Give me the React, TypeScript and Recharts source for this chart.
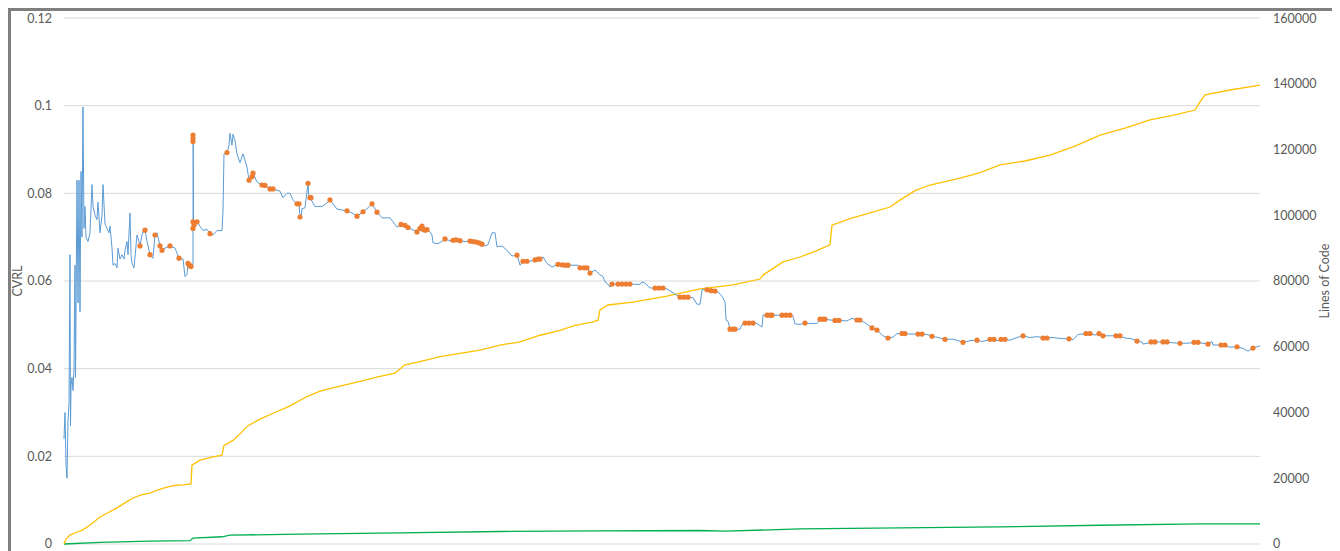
import React from "react";
import {
  ComposedChart,
  Line,
  Scatter,
  XAxis,
  YAxis,
  CartesianGrid,
} from "recharts";

// build index, CVRL
const cvrlPoints: [number, number][] = [
  [64, 0.024], [65, 0.03], [66, 0.018], [67, 0.015], [68, 0.028], [69, 0.032], [70, 0.066], [70.5, 0.027],
  [71, 0.036], [72, 0.038], [73, 0.035], [74, 0.04], [75, 0.0636], [75.5, 0.038], [76, 0.052], [77, 0.083],
  [78, 0.055], [79, 0.083], [80, 0.053], [81, 0.085], [82, 0.07], [83, 0.0997], [84, 0.072], [85, 0.077],
  [86, 0.07], [88, 0.069], [90, 0.071], [92, 0.082], [93, 0.077], [95, 0.075], [97, 0.074], [98, 0.078],
  [100, 0.071], [102, 0.075], [103, 0.082], [105, 0.073], [107, 0.072], [109, 0.071], [110, 0.0725],
  [112, 0.0675], [113, 0.0636], [115, 0.064], [117, 0.063], [118, 0.0675], [120, 0.065], [122, 0.066],
  [124, 0.065], [125, 0.067], [127, 0.069], [128, 0.066], [130, 0.0755], [131, 0.066], [132, 0.064],
  [134, 0.063], [137, 0.0705], [139, 0.069], [140, 0.068], [142, 0.0705], [144, 0.072], [145, 0.0716],
  [147, 0.069], [150, 0.066], [153, 0.0652], [155, 0.0705], [157, 0.071], [160, 0.068], [162, 0.067],
  [165, 0.0675], [170, 0.068], [175, 0.0675], [179, 0.0652], [183, 0.065], [185, 0.061], [187, 0.0615],
  [188, 0.064], [191, 0.0635], [193, 0.0635], [193.2, 0.0933], [193.5, 0.0735], [194, 0.072], [197, 0.0735],
  [200, 0.0725], [203, 0.0715], [207, 0.0718], [210, 0.0708], [213, 0.0705], [217, 0.0715], [222, 0.0715],
  [223, 0.076], [224, 0.089], [227, 0.0893], [229, 0.091], [230, 0.0937], [232, 0.091], [233, 0.0935],
  [235, 0.092], [237, 0.089], [240, 0.087], [243, 0.089], [247, 0.086], [249, 0.083], [253, 0.0846],
  [257, 0.0826], [262, 0.0819], [265, 0.0819], [270, 0.081], [273, 0.081], [280, 0.0805], [283, 0.079],
  [287, 0.08], [290, 0.08], [293, 0.0785], [297, 0.0776], [299, 0.0776], [300, 0.0746], [301, 0.0746],
  [302, 0.0765], [305, 0.0767], [308, 0.0823], [309, 0.079], [310, 0.079], [315, 0.077], [322, 0.077],
  [327, 0.0778], [330, 0.0785], [337, 0.0764], [347, 0.076], [352, 0.0755], [357, 0.0748], [363, 0.0758],
  [367, 0.0765], [372, 0.0776], [377, 0.0757], [382, 0.0744], [390, 0.0744], [393, 0.0735], [397, 0.0723],
  [401, 0.0729], [405, 0.0727], [408, 0.0722], [417, 0.0712], [422, 0.0725], [427, 0.0717], [430, 0.0712],
  [432, 0.0705], [433, 0.0687], [438, 0.0685], [443, 0.0692], [445, 0.0696], [452, 0.069], [455, 0.0693],
  [460, 0.0692], [465, 0.069], [470, 0.0691], [476, 0.0688], [482, 0.0684], [485, 0.068], [488, 0.0683],
  [492, 0.071], [495, 0.071], [497, 0.0678], [502, 0.068], [507, 0.067], [512, 0.0657], [517, 0.0659],
  [520, 0.0636], [523, 0.0645], [527, 0.0645], [532, 0.0646], [535, 0.0648], [540, 0.065], [543, 0.0655],
  [547, 0.064], [552, 0.0632], [555, 0.0635], [558, 0.0638], [568, 0.0636], [573, 0.0636], [578, 0.0636],
  [580, 0.063], [587, 0.063], [590, 0.0618], [595, 0.0625], [600, 0.0614], [603, 0.061], [605, 0.0598],
  [607, 0.0595], [610, 0.0586], [612, 0.0593], [620, 0.0592], [630, 0.0593], [640, 0.0592], [642, 0.0598],
  [645, 0.0595], [650, 0.0584], [655, 0.0584], [663, 0.0584], [667, 0.0582], [673, 0.0573], [680, 0.0563],
  [688, 0.0563], [693, 0.0562], [697, 0.0547], [700, 0.0547], [702, 0.058], [707, 0.058], [715, 0.0577],
  [718, 0.0575], [722, 0.0565], [725, 0.0552], [726, 0.0511], [728, 0.0508], [730, 0.049], [735, 0.049],
  [740, 0.049], [742, 0.05], [745, 0.0504], [753, 0.0504], [757, 0.0503], [762, 0.0495], [763, 0.0522],
  [772, 0.0522], [777, 0.0522], [782, 0.0522], [790, 0.0522], [793, 0.052], [795, 0.0502], [800, 0.0501],
  [805, 0.0504], [810, 0.0503], [817, 0.0503], [820, 0.0513], [825, 0.0513], [830, 0.0511], [837, 0.051],
  [847, 0.0509], [852, 0.0515], [857, 0.0511], [860, 0.0511], [865, 0.0505], [872, 0.0493], [877, 0.0488],
  [883, 0.0475], [888, 0.047], [893, 0.0472], [897, 0.048], [902, 0.048], [905, 0.048], [910, 0.0479],
  [918, 0.0479], [922, 0.0479], [927, 0.0478], [932, 0.0474], [938, 0.0471], [945, 0.0467], [953, 0.0467],
  [958, 0.0464], [963, 0.046], [970, 0.0464], [977, 0.0465], [982, 0.0462], [992, 0.0467], [997, 0.0464],
  [1003, 0.0467], [1010, 0.0465], [1017, 0.0471], [1023, 0.0475], [1030, 0.0471], [1037, 0.0473],
  [1045, 0.047], [1053, 0.0471], [1060, 0.0469], [1069, 0.0468], [1073, 0.0466], [1078, 0.0478],
  [1088, 0.048], [1095, 0.0477], [1100, 0.0479], [1103, 0.0475], [1110, 0.0475], [1118, 0.0475],
  [1125, 0.047], [1132, 0.0468], [1137, 0.0463], [1142, 0.0461], [1143, 0.0456], [1153, 0.0461],
  [1165, 0.0461], [1173, 0.0459], [1180, 0.0458], [1187, 0.0458], [1196, 0.046], [1203, 0.0458],
  [1208, 0.0456], [1212, 0.0462], [1213, 0.0454], [1223, 0.0454], [1230, 0.0449], [1237, 0.045],
  [1243, 0.0446], [1248, 0.044], [1253, 0.0447], [1260, 0.0452],
];

// highlighted CVRL points
const highlightPoints: [number, number][] = [
  [140, 0.068], [145, 0.0716], [150, 0.066], [155, 0.0705], [160, 0.068], [162, 0.067], [170, 0.068],
  [179, 0.0652], [188, 0.064], [189, 0.0637], [190, 0.0635], [191, 0.0633], [193, 0.0933], [193, 0.0925],
  [193, 0.0918], [193, 0.0735], [193, 0.072], [194, 0.0728], [197, 0.0735], [210, 0.0708], [227, 0.0893],
  [249, 0.083], [252, 0.0838], [253, 0.0846], [262, 0.0819], [265, 0.0818], [270, 0.081], [273, 0.081],
  [297, 0.0776], [299, 0.0776], [300, 0.0746], [308, 0.0823], [310, 0.079], [311, 0.079], [330, 0.0785],
  [347, 0.076], [357, 0.0748], [363, 0.0758], [372, 0.0776], [377, 0.0757], [401, 0.0729], [405, 0.0727],
  [408, 0.0722], [417, 0.0712], [420, 0.072], [422, 0.0725], [423, 0.0718], [425, 0.0716], [427, 0.0717],
  [445, 0.0696], [453, 0.0693], [456, 0.0694], [460, 0.0692], [470, 0.0691], [473, 0.069], [476, 0.0689],
  [479, 0.0687], [482, 0.0684], [517, 0.0659], [523, 0.0645], [527, 0.0645], [535, 0.0648], [538, 0.065],
  [540, 0.065], [558, 0.0638], [562, 0.0637], [565, 0.0636], [568, 0.0636], [580, 0.063], [584, 0.063],
  [587, 0.063], [590, 0.0618], [612, 0.0593], [618, 0.0593], [622, 0.0593], [626, 0.0593], [630, 0.0593],
  [655, 0.0584], [659, 0.0584], [663, 0.0584], [680, 0.0563], [684, 0.0563], [688, 0.0563], [707, 0.058],
  [711, 0.0578], [715, 0.0577], [730, 0.049], [733, 0.049], [735, 0.049], [745, 0.0504], [749, 0.0504],
  [753, 0.0504], [767, 0.0522], [770, 0.0522], [772, 0.0522], [782, 0.0522], [786, 0.0522], [790, 0.0522],
  [805, 0.0504], [820, 0.0513], [823, 0.0513], [825, 0.0513], [835, 0.051], [839, 0.051], [857, 0.0511],
  [860, 0.0511], [872, 0.0493], [877, 0.0488], [888, 0.047], [902, 0.048], [905, 0.048], [918, 0.0479],
  [922, 0.0479], [932, 0.0474], [945, 0.0467], [963, 0.046], [977, 0.0465], [990, 0.0467], [994, 0.0467],
  [1001, 0.0467], [1005, 0.0467], [1023, 0.0475], [1043, 0.047], [1047, 0.047], [1069, 0.0468],
  [1086, 0.048], [1090, 0.048], [1099, 0.048], [1103, 0.0475], [1116, 0.0475], [1120, 0.0475],
  [1137, 0.0463], [1151, 0.0461], [1155, 0.0461], [1163, 0.0461], [1167, 0.0461], [1180, 0.0458],
  [1194, 0.046], [1198, 0.046], [1208, 0.0456], [1221, 0.0454], [1225, 0.0454], [1237, 0.045],
  [1253, 0.0447],
];

// build index, total lines of code
const locPoints: [number, number][] = [
  [64, 0], [66, 1500], [70, 2700], [76, 3500], [83, 4300], [90, 5800], [100, 8200], [108, 9500],
  [117, 11000], [125, 12500], [133, 14000], [142, 15000], [150, 15500], [158, 16500], [167, 17300],
  [175, 17800], [183, 18000], [191, 18300], [192, 24000], [200, 25500], [213, 26500], [222, 27000],
  [224, 30000], [233, 31500], [240, 33500], [248, 36000], [260, 38000], [275, 40000], [290, 42000],
  [306, 44700], [320, 46500], [340, 48000], [360, 49500], [380, 51000], [395, 52000], [405, 54500],
  [420, 55500], [440, 57000], [460, 58000], [480, 59000], [500, 60500], [520, 61500], [540, 63500],
  [560, 65000], [575, 66500], [592, 67500], [598, 68000], [600, 71200], [608, 72700], [633, 73600],
  [667, 75400], [700, 77600], [733, 78800], [760, 80600], [763, 81800], [783, 85800], [800, 87300],
  [815, 89000], [830, 91000], [832, 97000], [850, 99000], [870, 100700], [890, 102500], [900, 104600],
  [915, 107500], [930, 109200], [960, 111300], [980, 113000], [1000, 115300], [1025, 116500],
  [1050, 118300], [1075, 121000], [1100, 124400], [1125, 126500], [1150, 129000], [1175, 130500],
  [1195, 132000], [1200, 134500], [1205, 136600], [1230, 138100], [1260, 139600],
];

// build index, second lines-of-code series
const locSecondPoints: [number, number][] = [
  [64, 0], [100, 500], [150, 900], [190, 1000], [193, 1800], [222, 2200], [230, 2700], [300, 3000],
  [400, 3400], [500, 3800], [600, 4000], [700, 4100], [725, 3900], [800, 4600], [900, 4900],
  [1000, 5200], [1100, 5700], [1200, 6100], [1260, 6100],
];

const cvrlTicks = [0, 0.02, 0.04, 0.06, 0.08, 0.1, 0.12];
const locTicks = [0, 20000, 40000, 60000, 80000, 100000, 120000, 140000, 160000];

const cvrlData = cvrlPoints.map(([x, v]) => ({ x, v }));
const highlightData = highlightPoints.map(([x, v]) => ({ x, v }));
const locData = locPoints.map(([x, loc]) => ({ x, loc }));
const locSecondData = locSecondPoints.map(([x, loc]) => ({ x, loc }));

const FONT = "Lato, 'Open Sans', sans-serif";
const tickStyle = { fill: "#595959", fontSize: 12.5, fontFamily: FONT };

const Dot = (props: any) => {
  const { cx, cy } = props;
  if (cx == null || cy == null) return null;
  return <circle cx={cx} cy={cy} r={2.6} fill="#ED7D31" />;
};

export default function App() {
  return (
    <div
      style={{
        width: 1324,
        height: 550,
        border: "3px solid #7F7F7F",
        background: "#fff",
        overflow: "hidden",
      }}
    >
      <ComposedChart
        width={1324}
        height={545}
        margin={{ top: 7, right: 0, bottom: 12, left: 0 }}
      >
        <CartesianGrid yAxisId="left" vertical={false} stroke="#D9D9D9" strokeWidth={1} />
        <XAxis dataKey="x" type="number" domain={[64, 1260]} hide allowDuplicatedCategory={false} />
        <YAxis
          yAxisId="left"
          orientation="left"
          width={53}
          domain={[0, 0.12]}
          ticks={cvrlTicks}
          axisLine={false}
          tickLine={false}
          tickSize={6}
          tickMargin={6}
          tick={tickStyle}
          tickFormatter={(v: number) => String(v)}
          label={{
            value: "CVRL",
            angle: -90,
            position: "center",
            dx: -19.5,
            style: { fill: "#595959", fontSize: 12.5, fontFamily: FONT },
          }}
        />
        <YAxis
          yAxisId="right"
          orientation="right"
          width={75}
          domain={[0, 160000]}
          ticks={locTicks}
          axisLine={false}
          tickLine={false}
          tickSize={6}
          tickMargin={7}
          tick={tickStyle}
          label={{
            value: "Lines of Code",
            angle: -90,
            position: "center",
            dx: 27.5,
            style: { fill: "#595959", fontSize: 12.5, fontFamily: FONT },
          }}
        />
        <Line
          yAxisId="right"
          data={locSecondData}
          dataKey="loc"
          type="linear"
          stroke="#00B050"
          strokeWidth={1.3}
          dot={false}
          isAnimationActive={false}
        />
        <Line
          yAxisId="right"
          data={locData}
          dataKey="loc"
          type="linear"
          stroke="#FFC000"
          strokeWidth={1.3}
          dot={false}
          isAnimationActive={false}
        />
        <Line
          yAxisId="left"
          data={cvrlData}
          dataKey="v"
          type="linear"
          stroke="#5B9BD5"
          strokeWidth={1}
          dot={false}
          isAnimationActive={false}
        />
        <Scatter
          yAxisId="left"
          data={highlightData}
          dataKey="v"
          shape={<Dot />}
          isAnimationActive={false}
        />
      </ComposedChart>
    </div>
  );
}
